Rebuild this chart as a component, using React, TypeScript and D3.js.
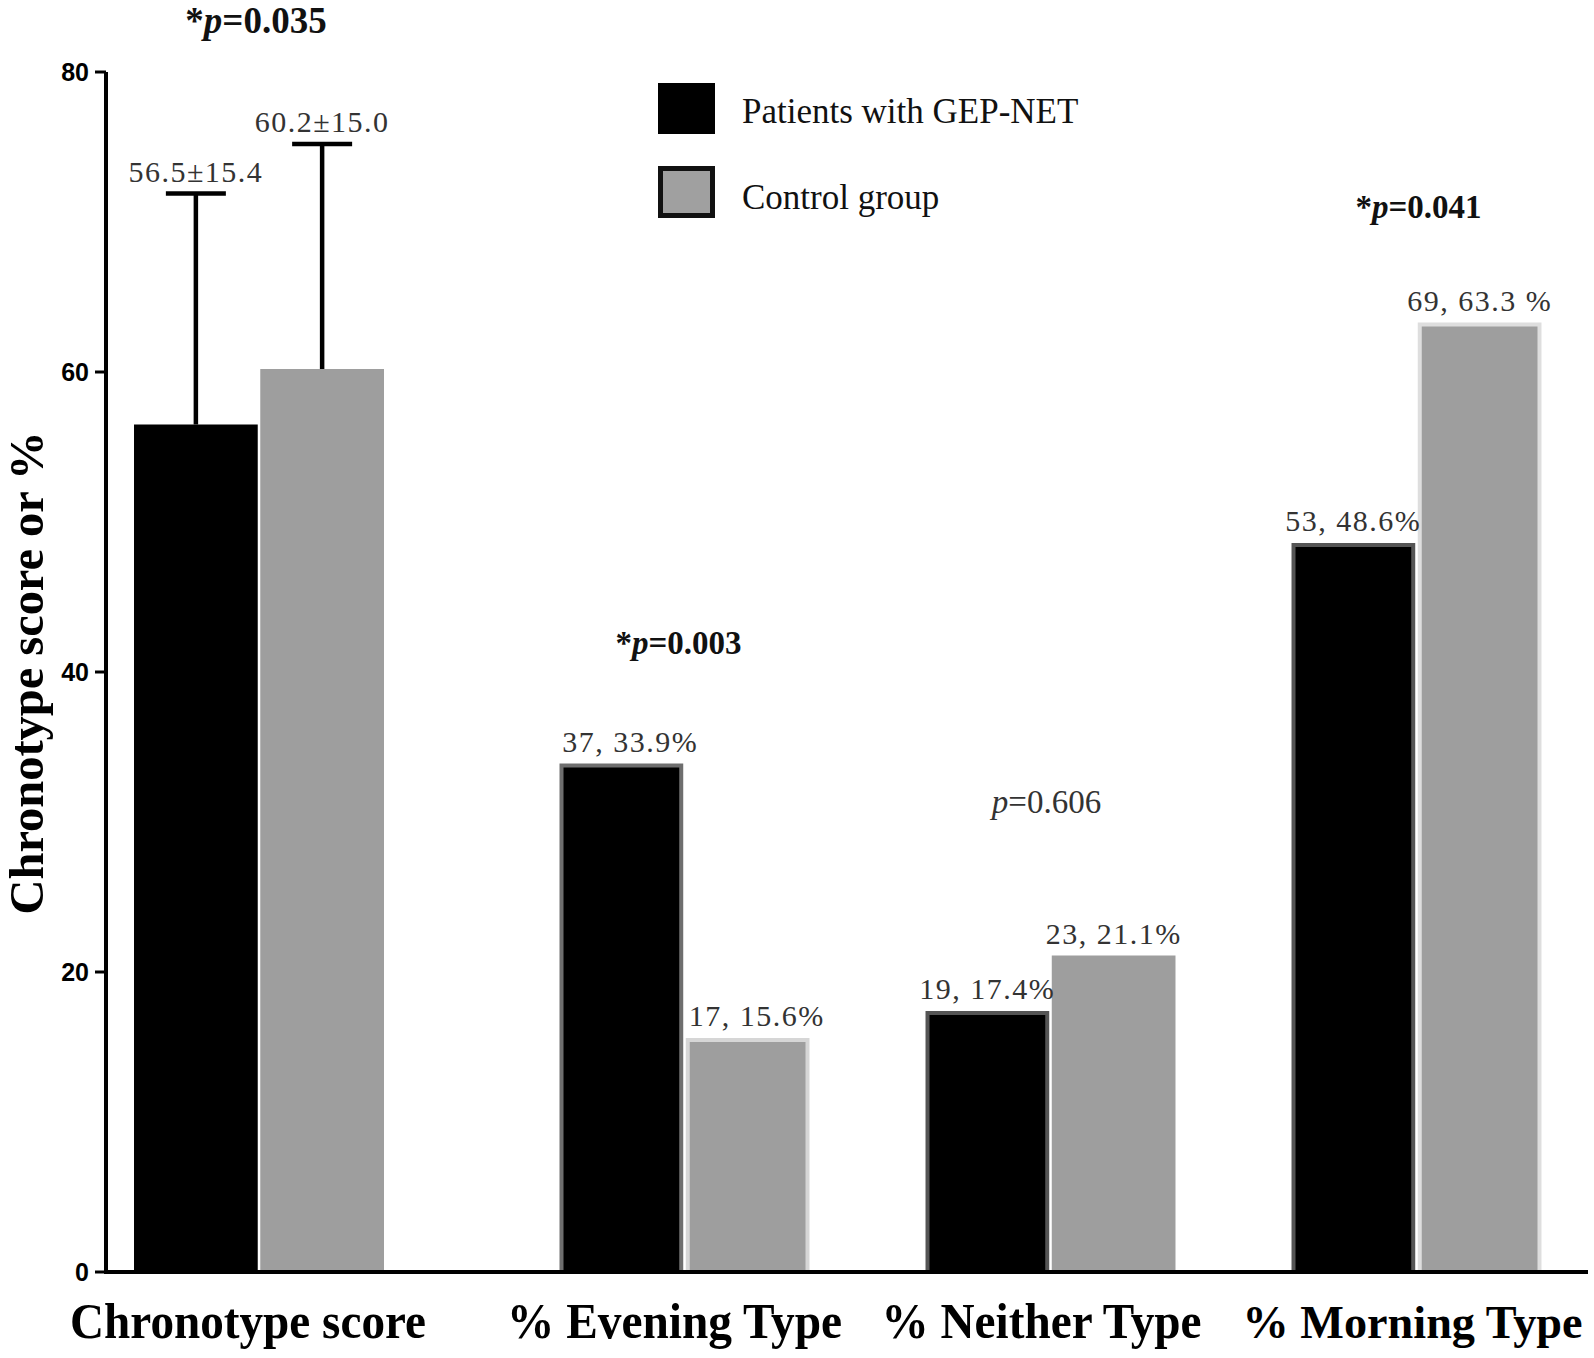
import React from "react";
import * as d3 from "d3";

// ---------- data ----------
const categories = ["Chronotype score", "% Evening Type", "% Neither Type", "% Morning Type"];
const seriesNames = ["Patients with GEP-NET", "Control group"];
const patientValues = [56.5, 33.9, 17.4, 48.6];
const controlValues = [60.2, 15.6, 21.1, 63.3];
const patientSD = [15.4, 0, 0, 0];
const controlSD = [15.0, 0, 0, 0];
const patientLabels = ["56.5±15.4", "37, 33.9%", "19, 17.4%", "53, 48.6%"];
const controlLabels = ["60.2±15.0", "17, 15.6%", "23, 21.1%", "69, 63.3 %"];
const pValues = ["0.035", "0.003", "0.606", "0.041"];
const pSignificant = [true, true, false, true];
const yTicks = [0, 20, 40, 60, 80];

// ---------- layout / style ----------
const W = 1594;
const H = 1358;
const AXIS_X = 106;
const Y_TOP = 72;
const Y_BOTTOM = 1272;
const X_END = 1588;
const FIRST_GROUP_SHIFT = -59.5;
const pLabelLevel = [82.6, 41.2, 30.6, 70.3];
const pLabelSize = [37, 33, 33, 33];
const pLabelShift = [-3, -6, -4, 2];
const valueLabelShift = [0, 9, 0, 0];
const xLabelLength = [356, 335, 320, 340];
const xLabelSize = [50, 50, 50, 47];
const xLabelShift = [-11, -10, -9, -4];
const fills = ["#000000", "#9e9e9e"];
const borderStyles = [
  [null, null],
  ["#6e6e6e", "#d6d6d6"],
  ["#555555", null],
  ["#555555", "#dedede"],
];
const SERIF = "'Liberation Serif', 'Times New Roman', serif";
const SANS = "'Liberation Sans', Arial, sans-serif";

export default function App() {
  const y = d3.scaleLinear().domain([0, 80]).range([Y_BOTTOM, Y_TOP]);
  const x = d3
    .scaleBand<string>()
    .domain(categories)
    .range([135.5, 1599.5])
    .paddingInner(0.317)
    .paddingOuter(0.1585);
  const sub = d3
    .scaleBand<string>()
    .domain(seriesNames)
    .range([0, x.bandwidth()])
    .paddingInner(0.02);

  const groupX = (c: string, i: number) => (x(c) as number) + (i === 0 ? FIRST_GROUP_SHIFT : 0);

  const rows = categories.map((c, i) => ({
    c,
    i,
    vals: [patientValues[i], controlValues[i]],
    sds: [patientSD[i], controlSD[i]],
    labels: [patientLabels[i], controlLabels[i]],
  }));

  return (
    <svg
      width={W}
      height={H}
      style={{ position: "absolute", left: 0, top: 0, background: "#fff" }}
    >
      <rect x={0} y={0} width={W} height={H} fill="#fff" />
      {/* bars */}
      {rows.map((r) => {
        const gx = groupX(r.c, r.i);
        return (
          <g key={r.c}>
            {seriesNames.map((s, si) => {
              const bx = gx + (sub(s) as number);
              const bw = sub.bandwidth();
              const top = y(r.vals[si]);
              const border = borderStyles[r.i][si];
              const sw = 4;
              return border ? (
                <rect
                  key={s}
                  x={bx + sw / 2}
                  y={top + sw / 2}
                  width={bw - sw}
                  height={Y_BOTTOM - top - sw / 2}
                  fill={fills[si]}
                  stroke={border}
                  strokeWidth={sw}
                />
              ) : (
                <rect key={s} x={bx} y={top} width={bw} height={Y_BOTTOM - top} fill={fills[si]} />
              );
            })}
            {seriesNames.map((s, si) => {
              const cx = gx + (sub(s) as number) + sub.bandwidth() / 2;
              const sd = r.sds[si];
              const top = y(r.vals[si] + sd);
              return (
                <g key={s + "-lab"}>
                  {sd > 0 && (
                    <g stroke="#000" strokeWidth={4.5}>
                      <line x1={cx} x2={cx} y1={y(r.vals[si])} y2={top} />
                      <line x1={cx - 30} x2={cx + 30} y1={top} y2={top} />
                    </g>
                  )}
                  <text
                    x={cx + valueLabelShift[r.i]}
                    y={top - 12}
                    textAnchor="middle"
                    fontFamily={SERIF}
                    fontSize={30}
                    letterSpacing={1.5}
                    fill="#333"
                  >
                    {r.labels[si]}
                  </text>
                </g>
              );
            })}
            <text
              x={gx + x.bandwidth() / 2 + pLabelShift[r.i]}
              y={y(pLabelLevel[r.i])}
              textAnchor="middle"
              fontFamily={SERIF}
              fontSize={pLabelSize[r.i]}
              fontWeight={pSignificant[r.i] ? "bold" : "normal"}
              fill={pSignificant[r.i] ? "#111" : "#333"}
            >
              {pSignificant[r.i] ? "*" : ""}
              <tspan fontStyle="italic">p</tspan>={pValues[r.i]}
            </text>
            <text
              x={gx + x.bandwidth() / 2 + xLabelShift[r.i]}
              y={1338}
              textAnchor="middle"
              fontFamily={SERIF}
              fontSize={xLabelSize[r.i]}
              fontWeight="bold"
              textLength={xLabelLength[r.i]}
              lengthAdjust="spacingAndGlyphs"
              fill="#000"
            >
              {r.c}
            </text>
          </g>
        );
      })}

      {/* axes */}
      <line x1={AXIS_X} x2={AXIS_X} y1={Y_TOP} y2={Y_BOTTOM + 2} stroke="#000" strokeWidth={4} />
      <line x1={AXIS_X - 2} x2={X_END} y1={Y_BOTTOM} y2={Y_BOTTOM} stroke="#000" strokeWidth={4} />
      {yTicks.map((t) => (
        <g key={t}>
          <line x1={AXIS_X - 11} x2={AXIS_X} y1={y(t)} y2={y(t)} stroke="#000" strokeWidth={3} />
          <text
            x={89}
            y={y(t)}
            dy="0.36em"
            textAnchor="end"
            fontFamily={SANS}
            fontWeight="bold"
            fontSize={25}
            fill="#000"
          >
            {t}
          </text>
        </g>
      ))}
      <text
        transform={`translate(43,673) rotate(-90)`}
        textAnchor="middle"
        fontFamily={SERIF}
        fontWeight="bold"
        fontSize={49}
        textLength={483}
        lengthAdjust="spacingAndGlyphs"
        fill="#000"
      >
        Chronotype score or %
      </text>

      {/* legend */}
      <rect x={658} y={83} width={57} height={51} fill="#000" />
      <rect x={660.5} y={168.5} width={52} height={47} fill="#a0a0a0" stroke="#111" strokeWidth={5} />
      <text x={742} y={123} fontFamily={SERIF} fontSize={35} fill="#111">
        {seriesNames[0]}
      </text>
      <text x={742} y={209} fontFamily={SERIF} fontSize={35} fill="#111">
        {seriesNames[1]}
      </text>
    </svg>
  );
}
